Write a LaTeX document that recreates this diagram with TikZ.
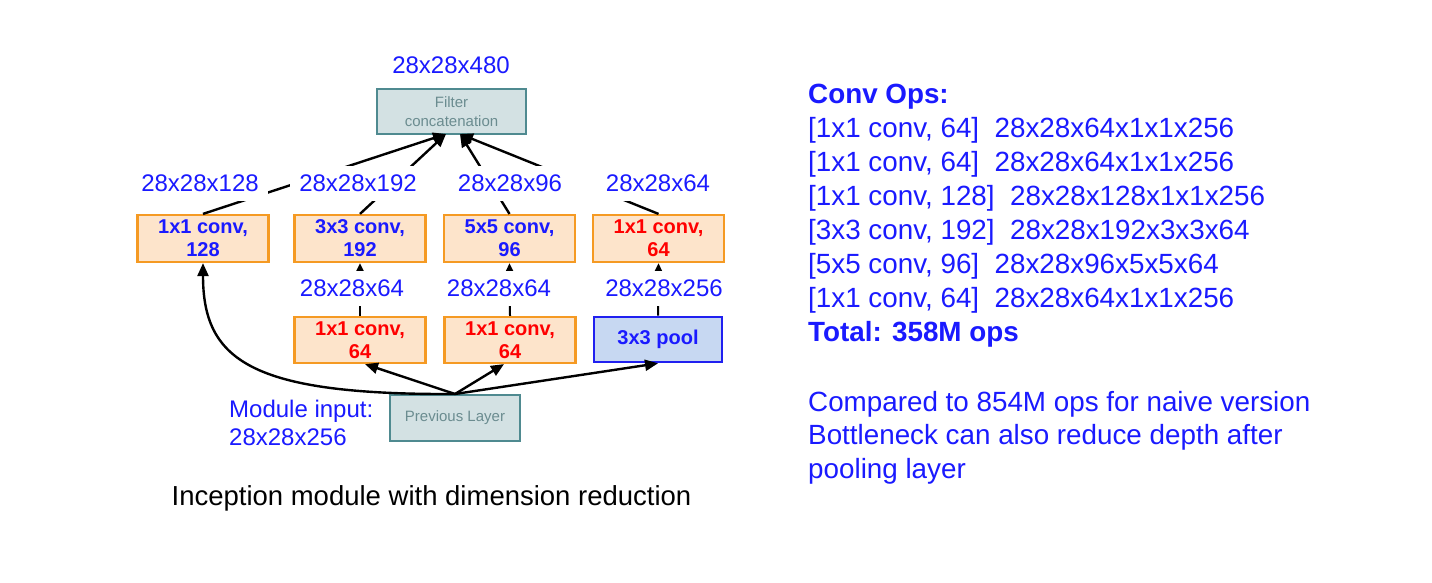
\documentclass[tikz,border=0pt]{standalone}
\usepackage{fontspec}
\setmainfont{Liberation Sans}
\usetikzlibrary{arrows.meta}
\definecolor{tblue}{HTML}{1A1AFF}
\definecolor{tred}{HTML}{FF0000}
\definecolor{boxorange}{HTML}{F59A23}
\definecolor{boxpeach}{HTML}{FDE4CB}
\definecolor{poolfill}{HTML}{C7D8F2}
\definecolor{poolline}{HTML}{2020F0}
\definecolor{grayfill}{HTML}{D3E1E3}
\definecolor{grayline}{HTML}{4F8A90}
\definecolor{graytext}{HTML}{6B8C90}
\begin{document}
\begin{tikzpicture}[x=1pt,y=-1pt,
  convbox/.style={draw=boxorange, fill=boxpeach, line width=2.2pt, minimum width=131pt, minimum height=47pt, inner sep=0pt, align=center, font=\fontsize{20}{23}\selectfont\bfseries},
  poolbox/.style={draw=poolline, fill=poolfill, line width=2.6pt, minimum width=128pt, minimum height=45pt, inner sep=0pt, text=tblue, font=\fontsize{20}{23}\selectfont\bfseries},
  graybox/.style={draw=grayline, fill=grayfill, line width=2pt, minimum width=149pt, minimum height=45pt, inner sep=0pt, align=center, text=graytext, font=\fontsize{15}{19}\selectfont},
  dimlabel/.style={fill=white, text=tblue, inner xsep=9pt, inner ysep=9pt, font=\fontsize{24}{28}\selectfont},
  conn/.style={line width=2.4pt, -{Triangle[length=13pt,width=11pt]}},
  smallconn/.style={line width=2pt, -{Triangle[length=8pt,width=7pt]}},
  optext/.style={anchor=base west, text=tblue, inner sep=0pt, font=\fontsize{27.8}{34}\selectfont}
]
\useasboundingbox[fill=white] (0,0) rectangle (1432,582);

% boxes
\node[graybox, minimum width=149pt] (concat) at (451.5,111.5) {Filter\\concatenation};
\node[convbox, text=tblue] (b1) at (203,238.5) {1x1 conv,\\128};
\node[convbox, text=tblue] (b2) at (360,238.5) {3x3 conv,\\192};
\node[convbox, text=tblue] (b3) at (509.5,238.5) {5x5 conv,\\96};
\node[convbox, text=tred] (b4) at (658.5,238.5) {1x1 conv,\\64};
\node[convbox, text=tred, minimum height=46pt] (r1) at (360,340) {1x1 conv,\\64};
\node[convbox, text=tred, minimum height=46pt] (r2) at (510,340) {1x1 conv,\\64};
\node[poolbox] (pool) at (658,339.5) {3x3 pool};
\node[graybox, minimum width=130pt, minimum height=46pt] (prev) at (455,418) {Previous Layer};

\coordinate (cl) at (446,134);
\coordinate (cr) at (460,134);

% connectors
\draw[conn] (b1.north) -- (cl);
\draw[conn] (b2.north) -- (cl);
\draw[conn] (b3.north) -- (cr);
\draw[conn] (b4.north) -- (cr);
\draw[smallconn] (r1.north) -- (b2.south);
\draw[smallconn] (r2.north) -- (b3.south);
\draw[smallconn] (pool.north) -- (b4.south);
\draw[conn] (prev.north) .. controls (250,395) and (203,360) .. (b1.south);
\draw[conn] (prev.north) -- ([xshift=5pt]r1.south);
\draw[conn] (prev.north) -- ([xshift=-6pt]r2.south);
\draw[conn] (prev.north) -- (pool.south);

% dimension labels
\node[dimlabel] (d480) at (451,65) {28x28x480};
\node[dimlabel] (d128) at (200,183) {28x28x128};
\node[dimlabel] (d192) at (358,183) {28x28x192};
\node[dimlabel, minimum width=150pt] (d96) at (510,183) {28x28x96};
\node[dimlabel, minimum width=146pt] (d64) at (658,183) {28x28x64};
\node[dimlabel] (e64a) at (352,288) {28x28x64};
\node[dimlabel] (e64b) at (499,288) {28x28x64};
\node[dimlabel] (e256) at (664,288) {28x28x256};
\node[anchor=north west, text=tblue, inner sep=0pt, align=left, font=\fontsize{24}{28}\selectfont] (modin) at (229,400) {Module input:\\28x28x256};

% caption
\node[text=black, inner sep=0pt, font=\fontsize{27.5}{32}\selectfont] (cap) at (431.5,498) {Inception module with dimension reduction};

% right text
\node[optext, font=\fontsize{27.8}{34}\selectfont\bfseries] (t0) at (808,103) {Conv Ops:};
\node[optext] (t1) at (808,137) {[1x1 conv, 64]~ 28x28x64x1x1x256};
\node[optext] (t2) at (808,171) {[1x1 conv, 64]~ 28x28x64x1x1x256};
\node[optext] (t3) at (808,205) {[1x1 conv, 128]~ 28x28x128x1x1x256};
\node[optext] (t4) at (808,239) {[3x3 conv, 192]~ 28x28x192x3x3x64};
\node[optext] (t5) at (808,273) {[5x5 conv, 96]~ 28x28x96x5x5x64};
\node[optext] (t6) at (808,307) {[1x1 conv, 64]~ 28x28x64x1x1x256};
\node[optext, font=\fontsize{27.8}{34}\selectfont\bfseries] (t7) at (808,341) {Total: 358M ops};
\node[optext] (t8) at (808,411) {Compared to 854M ops for naive version};
\node[optext] (t9) at (808,444) {Bottleneck can also reduce depth after};
\node[optext] (t10) at (808,478) {pooling layer};
\end{tikzpicture}
\end{document}
